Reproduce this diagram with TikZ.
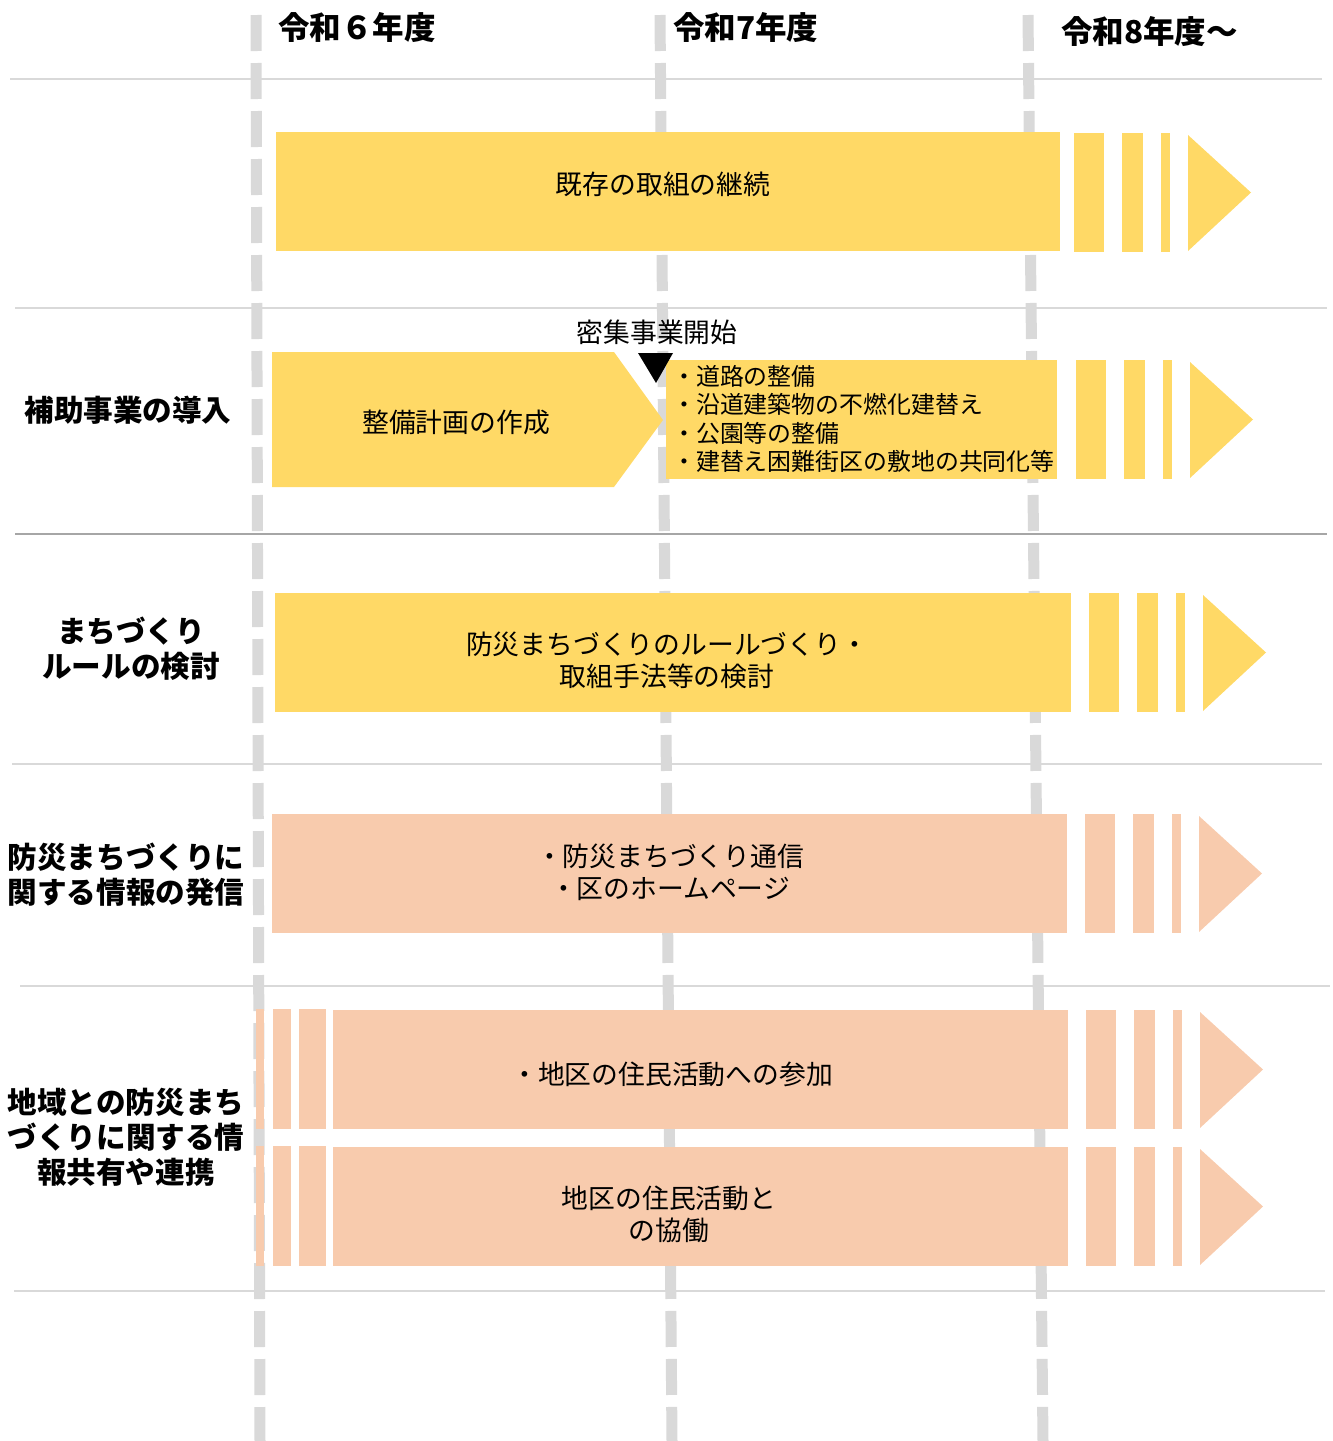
\documentclass[tikz,border=0pt]{standalone}
\usepackage{fontspec}
\setmainfont{Noto Sans CJK JP}

\definecolor{barYellow}{HTML}{FFD966}
\definecolor{barPeach}{HTML}{F8CBAD}
\definecolor{lineGray}{HTML}{D9D9D9}
\definecolor{ruleGray}{HTML}{A6A6A6}

% stripes and arrow head after a bar: start x, top y, bottom y, colour
\newcommand{\tailmark}[4]{%
  \fill[#4] (#1,#2) rectangle (#1+30,#3);
  \fill[#4] (#1+48,#2) rectangle (#1+69,#3);
  \fill[#4] (#1+87,#2) rectangle (#1+96,#3);
  \fill[#4] (#1+114,#2+2) -- (#1+177,{(#2+#3)/2}) -- (#1+114,#3-1) -- cycle;
}

\begin{document}
\begin{tikzpicture}[x=1pt,y=-1pt,
    head/.style={font=\fontsize{31.5}{36}\selectfont\bfseries, anchor=west, inner sep=0pt},
    rowlabel/.style={font=\fontsize{29.6}{35}\selectfont\bfseries, align=center, inner sep=0pt},
    bartext/.style={font=\fontsize{26.8}{32}\selectfont, align=center, inner sep=0pt},
    listtext/.style={font=\fontsize{23.9}{28.5}\selectfont, align=left, anchor=west, inner sep=0pt},
    timeline/.style={lineGray, line width=11pt, dash pattern=on 36pt off 12pt},
    rowrule/.style={lineGray, line width=2pt}]

    \useasboundingbox (0,0) rectangle (1333,1441);

    % Row separators
    \draw[rowrule] (10,79) -- (1322,79);
    \draw[rowrule] (15,308) -- (1327,308);
    \draw[rowrule, ruleGray] (15,534) -- (1327,534);
    \draw[rowrule] (12,764) -- (1322,764);
    \draw[rowrule] (20,986) -- (1330,986);
    \draw[rowrule] (14,1291) -- (1325,1291);

    % Year boundaries
    \draw[timeline] (256,15) -- (260,1441);
    \draw[timeline] (660,15) -- (672,1441);
    \draw[timeline] (1028,15) -- (1043,1441);

    % Year labels
    \node[head] (y6) at (278,28) {令和６年度};
    \node[head] (y7) at (673,28) {令和7年度};
    \node[head] (y8) at (1061,32) {令和8年度～};

    % Row labels
    \node[rowlabel] (lab2) at (128,410) {補助事業の導入};
    \node[rowlabel] (lab3) at (131,649) {まちづくり\\ルールの検討};
    \node[rowlabel] (lab4) at (126,875) {防災まちづくりに\\関する情報の発信};
    \node[rowlabel] (lab5) at (126,1137) {地域との防災まち\\づくりに関する情\\報共有や連携};

    % Existing work
    \fill[barYellow] (276,132) rectangle (1060,251);
    \tailmark{1074}{133}{252}{barYellow}
    \node[bartext] (t1) at (663,184) {既存の取組の継続};

    % Subsidy project
    \fill[barYellow] (272,352) -- (614,352) -- (663,420) -- (614,487) -- (272,487) -- cycle;
    \node[bartext] (t2) at (456,422) {整備計画の作成};
    \fill[barYellow] (666,360) rectangle (1057,479);
    \tailmark{1076}{360}{479}{barYellow}
    \node[listtext] (t2list) at (672,419)
    {・道路の整備\\・沿道建築物の不燃化建替え\\・公園等の整備\\・建替え困難街区の敷地の共同化等};
    \fill[black] (638,353) -- (673,353) -- (656,383) -- cycle;
    \node[bartext] (start) at (657,332) {密集事業開始};

    % Rules
    \fill[barYellow] (275,593) rectangle (1071,712);
    \tailmark{1089}{593}{712}{barYellow}
    \node[bartext] (t3) at (667,660) {防災まちづくりのルールづくり・\\取組手法等の検討};

    % Information
    \fill[barPeach] (272,814) rectangle (1067,933);
    \tailmark{1085}{814}{933}{barPeach}
    \node[bartext] (t4) at (670,872) {・防災まちづくり通信\\・区のホームページ};

    % Cooperation with the area
    \foreach \ytop/\ybot in {1009/1129, 1146/1266} {
      \fill[barPeach] (256,\ytop) rectangle (264,\ybot);
      \fill[barPeach] (273,\ytop) rectangle (291,\ybot);
      \fill[barPeach] (299,\ytop) rectangle (326,\ybot);
      \fill[barPeach] (333,\ytop+1) rectangle (1068,\ybot);
      \tailmark{1086}{\ytop+1}{\ybot}{barPeach}
    }
    \node[bartext] (t5a) at (672,1074) {・地区の住民活動への参加};
    \node[bartext] (t5b) at (669,1214) {地区の住民活動と\\の協働};

\end{tikzpicture}
\end{document}
